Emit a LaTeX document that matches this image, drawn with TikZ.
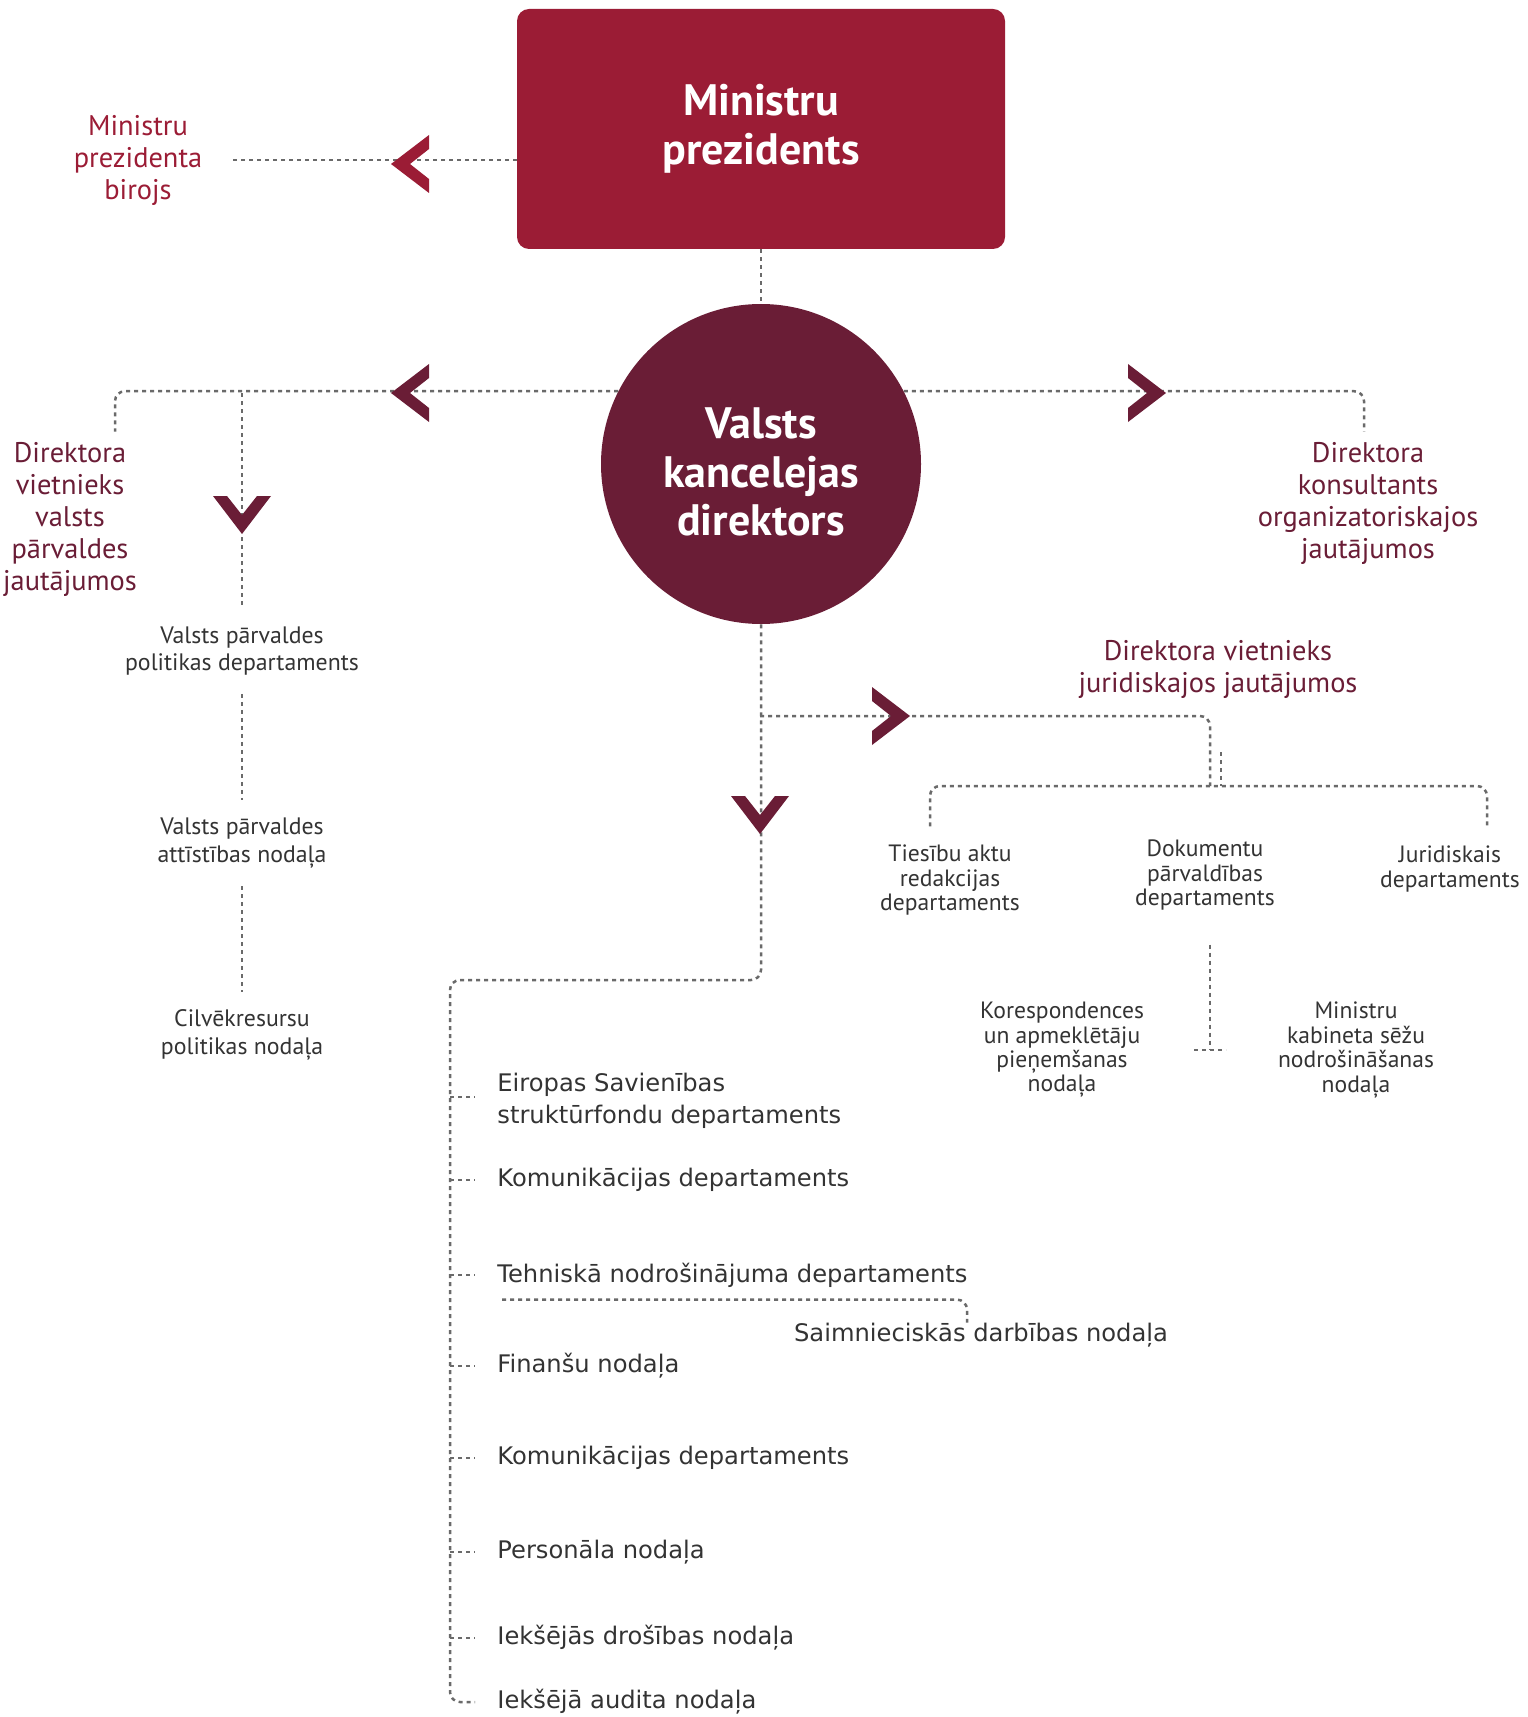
\documentclass[tikz,border=0pt]{standalone}
\usepackage{fontspec}
\setmainfont{PT Sans}
\newfontfamily\listfont{DejaVu Sans}
\usepackage{tikz}
\usetikzlibrary{calc,positioning}
\definecolor{pmred}{HTML}{9B1C35}
\definecolor{vkred}{HTML}{6A1D36}
\definecolor{linegray}{HTML}{6A6A6A}
\definecolor{txtgray}{HTML}{333333}
\tikzset{link/.style={draw=linegray, line width=1.25pt, dash pattern=on 2pt off 2pt, rounded corners=5pt}}
\tikzset{head/.style={align=center, inner xsep=0pt, inner ysep=5pt, font=\fontsize{14.2}{16}\selectfont}}
\tikzset{dept/.style={align=center, text=txtgray, inner xsep=0pt, inner ysep=9pt, font=\fontsize{11.9}{13.7}\selectfont}}
\tikzset{sub/.style={align=center, text=txtgray, inner xsep=0pt, inner ysep=9pt, font=\fontsize{11.8}{12.2}\selectfont}}
\tikzset{unit/.style={anchor=west, align=left, text=txtgray, inner sep=0pt, font=\listfont\fontsize{12.1}{16}\selectfont}}
\tikzset{title/.style={text=white, align=center, font=\bfseries\fontsize{22}{24.4}\selectfont}}
\tikzset{chev/.pic={\fill (-38,-29) -- (0,0) -- (-38,29) -- (-38,15) -- (-19,0) -- (-38,-15) -- cycle;}}

\begin{document}
\begin{tikzpicture}[x=0.5pt, y=-0.5pt]
		\useasboundingbox (0,0) rectangle (1527,1717);
		
		\node[fill=pmred, rounded corners=6pt, minimum width=244pt, minimum height=120pt, title] (pm) at (761,129) {Ministru\\prezidents};
		\node[circle, fill=vkred, minimum size=160pt, inner sep=0pt] (vk) at (761,464) {};
		\node[title] (vktext) at (761,472) {Valsts\\kancelejas\\direktors};
		
		\node[head, text=pmred] (birojs) at (138,160) {Ministru\\prezidenta\\birojs};
		\node[head, text=vkred] (dvp) at (70,519) {Direktora\\vietnieks\\valsts\\pārvaldes\\jautājumos};
		\node[head, text=vkred] (dko) at (1368,503) {Direktora\\konsultants\\organizatoriskajos\\jautājumos};
		\node[head, text=vkred] (dvj) at (1218,669) {Direktora vietnieks\\juridiskajos jautājumos};
		
		\node[dept] (vpd) at (242,651) {Valsts pārvaldes\\politikas departaments};
		\node[dept] (van) at (242,843) {Valsts pārvaldes\\attīstības nodaļa};
		\node[dept] (crp) at (242,1035) {Cilvēkresursu\\politikas nodaļa};
		
		\node[sub] (tad) at (950,880) {Tiesību aktu\\redakcijas\\departaments};
		\node[sub] (dpd) at (1205,875) {Dokumentu\\pārvaldības\\departaments};
		\node[sub] (jud) at (1450,869) {Juridiskais\\departaments};
		\node[sub] (kor) at (1062,1050) {Korespondences\\un apmeklētāju\\pieņemšanas\\nodaļa};
		\node[sub] (mks) at (1356,1050) {Ministru\\kabineta sēžu\\nodrošināšanas\\nodaļa};
		
		\node[unit] (esf) at (497,1101) {Eiropas Savienības\\struktūrfondu departaments};
		\node[unit] (kom) at (497,1180) {Komunikācijas departaments};
		\node[unit] (tnd) at (497,1275) {Tehniskā nodrošinājuma departaments};
		\node[unit, anchor=center] (sdn) at (981,1335) {Saimnieciskās darbības nodaļa};
		\node[unit] (fin) at (497,1366) {Finanšu nodaļa};
		\node[unit] (kom2) at (497,1458) {Komunikācijas departaments};
		\node[unit] (per) at (497,1552) {Personāla nodaļa};
		\node[unit] (idn) at (497,1638) {Iekšējās drošības nodaļa};
		\node[unit] (ian) at (497,1702) {Iekšējā audita nodaļa};
		
		\coordinate (lj) at (242,393);
		\coordinate (jj) at (760,716);
		\coordinate (jd) at (1210,786);
		\coordinate (dt) at (1210,1050);
		\coordinate (dd) at ([yshift=-8pt]dpd.south);
		\coordinate (spine) at (450,980);
		
		\draw[link] (pm.west |- birojs) -- ([xshift=14pt]birojs.east);
		\draw[link] (pm.south) -- (vk.north);
		\draw[link] (vk.153) -| ([xshift=22.5pt]dvp.north);
		\draw[link] (lj) -- (vpd.north);
		\draw[link] (vpd.south) -- (van.north);
		\draw[link] (van.south) -- (crp.north);
		\draw[link] (vk.27) -| ([xshift=-2pt]dko.north);
		
		\draw[link] (vk.south) |- (spine) |- ([xshift=-11pt]ian.west);
		\foreach \u in {kom,tnd,fin,kom2,per,idn}
			\draw[link] (spine |- \u.west) -- ([xshift=-11pt]\u.west);
		\draw[link] (spine |- 0,1097) -- ([xshift=-11pt]esf.west |- 0,1097);
		\draw[link] ([xshift=2.5pt,yshift=-6pt]tnd.south west) -| ([xshift=-7pt]sdn.north);
		
		\draw[link] (jj) -| (jd);
		\draw[link] ([xshift=-10pt]tad.north) |- (jd) -| ([xshift=18.5pt]jud.north);
		\draw[link] ([xshift=5.5pt,yshift=17pt]jd) -- ([xshift=5.5pt]jd);
		\draw[link] (dd -| dt) -- (dt);
		\draw[link] ([xshift=-8pt]dt) -- ([xshift=8pt]dt);
		
		\pic[color=pmred, rotate=180] at (391,164) {chev};
		\pic[color=vkred, rotate=180] at (391,393) {chev};
		\pic[color=vkred] at (1166,393) {chev};
		\pic[color=vkred, rotate=-90] at (242,534) {chev};
		\pic[color=vkred, rotate=-90] at (760,834) {chev};
		\pic[color=vkred] at (910,716) {chev};
\end{tikzpicture}
\end{document}
